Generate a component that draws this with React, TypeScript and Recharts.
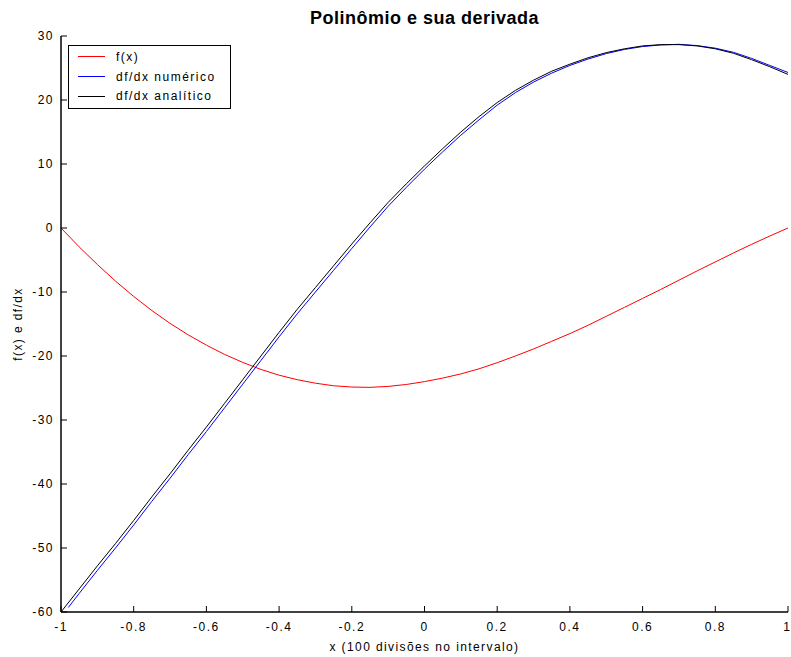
import React from "react";
import { LineChart, Line, XAxis, YAxis, Legend } from "recharts";

// x grid (100 divisions, read every 0.05)
const xs = [
  -1, -0.95, -0.9, -0.85, -0.8, -0.75, -0.7, -0.65, -0.6, -0.55, -0.5, -0.45, -0.4, -0.35,
  -0.3, -0.25, -0.2, -0.15, -0.1, -0.05, 0, 0.05, 0.1, 0.15, 0.2, 0.25, 0.3, 0.35, 0.4, 0.45,
  0.5, 0.55, 0.6, 0.65, 0.7, 0.75, 0.8, 0.85, 0.9, 0.95, 1,
];

const fx = [
  0, -2.95, -5.7, -8.3, -10.7, -12.9, -14.9, -16.7, -18.3, -19.75, -21.0, -22.1, -23.0, -23.7,
  -24.25, -24.65, -24.85, -24.9, -24.75, -24.45, -24.0, -23.45, -22.8, -22.0, -21.05, -20.0,
  -18.9, -17.7, -16.5, -15.2, -13.8, -12.4, -11.0, -9.6, -8.15, -6.7, -5.3, -3.9, -2.55, -1.25, 0,
];

const dfAnalitico = [
  -60, -56.4, -52.8, -49.3, -45.7, -42.0, -38.4, -34.7, -31.1, -27.4, -23.7, -20.0, -16.3,
  -12.7, -9.3, -5.9, -2.5, 0.8, 4.0, 6.9, 9.7, 12.4, 15.0, 17.4, 19.6, 21.5, 23.1, 24.5, 25.6,
  26.6, 27.4, 28.0, 28.45, 28.65, 28.65, 28.45, 28.0, 27.3, 26.3, 25.2, 24.0,
];

// numeric derivative starts one step later
const xsNum = [
  -0.98, -0.95, -0.9, -0.85, -0.8, -0.75, -0.7, -0.65, -0.6, -0.55, -0.5, -0.45, -0.4, -0.35,
  -0.3, -0.25, -0.2, -0.15, -0.1, -0.05, 0, 0.05, 0.1, 0.15, 0.2, 0.25, 0.3, 0.35, 0.4, 0.45,
  0.5, 0.55, 0.6, 0.65, 0.7, 0.75, 0.8, 0.85, 0.9, 0.95, 1,
];

const dfNumerico = [
  -59.3, -57.1, -53.5, -50.0, -46.4, -42.7, -39.1, -35.4, -31.8, -28.1, -24.4, -20.7, -17.0,
  -13.4, -10.0, -6.6, -3.2, 0.15, 3.4, 6.35, 9.2, 11.9, 14.5, 16.9, 19.2, 21.15, 22.8, 24.2, 25.4,
  26.4, 27.25, 27.9, 28.35, 28.6, 28.7, 28.5, 28.1, 27.45, 26.5, 25.4, 24.3,
];

const xTicks = [-1, -0.8, -0.6, -0.4, -0.2, 0, 0.2, 0.4, 0.6, 0.8, 1];
const yTicks = [-60, -50, -40, -30, -20, -10, 0, 10, 20, 30];

const seriesNames = ["f(x)", "df/dx numérico", "df/dx analítico"];
const seriesColors = ["#ff0000", "#0000ff", "#000000"];

const FONT = '"Liberation Sans", Arial, Helvetica, sans-serif';

const fData = xs.map((x, i) => ({ x, y: fx[i] }));
const numData = xsNum.map((x, i) => ({ x, y: dfNumerico[i] }));
const anaData = xs.map((x, i) => ({ x, y: dfAnalitico[i] }));

const tickStyle = { fill: "#000", fontSize: 12, fontFamily: FONT, letterSpacing: 1.5 };

function XTitle(props: any) {
  const vb = props.viewBox;
  return (
    <text
      x={vb.x + vb.width / 2}
      y={651}
      textAnchor="middle"
      fill="#000"
      fontSize={12}
      fontFamily={FONT}
      style={{ letterSpacing: 1.4 }}
    >
      x (100 divisões no intervalo)
    </text>
  );
}

function YTitle(props: any) {
  const vb = props.viewBox;
  const cx = 18;
  const cy = vb.y + vb.height / 2;
  return (
    <text
      x={cx}
      y={cy}
      transform={`rotate(-90 ${cx} ${cy})`}
      textAnchor="middle"
      dominantBaseline="central"
      fill="#000"
      fontSize={12}
      fontFamily={FONT}
      style={{ letterSpacing: 1.4 }}
    >
      f(x) e df/dx
    </text>
  );
}

function LegendBox() {
  return (
    <div
      style={{
        border: "1.5px solid #000",
        background: "#fff",
        width: 161,
        height: 61,
        boxSizing: "content-box",
        fontFamily: FONT,
        fontSize: 12,
        letterSpacing: 1.5,
        color: "#000",
        paddingTop: 1,
      }}
    >
      {seriesNames.map((name, i) => (
        <div key={i} style={{ display: "flex", alignItems: "center", height: 19.7 }}>
          <div style={{ width: 27, height: 1, background: seriesColors[i], marginLeft: 9, marginRight: 11 }} />
          <span style={{ whiteSpace: "pre" }}>{name}</span>
        </div>
      ))}
    </div>
  );
}

export default function App() {
  return (
    <div style={{ position: "absolute", left: 0, top: 0, width: 791, height: 657, background: "#fff" }}>
      <div
        style={{
          position: "absolute",
          left: 0,
          width: 849,
          top: 7,
          textAlign: "center",
          fontFamily: FONT,
          fontWeight: "bold",
          fontSize: 18,
          letterSpacing: 0.5,
          lineHeight: "22px",
        }}
      >
        Polinômio e sua derivada
      </div>
      <LineChart width={791} height={657} margin={{ top: 36, right: 3, bottom: 0, left: 0 }}>
        <XAxis
          dataKey="x"
          type="number"
          domain={[-1, 1]}
          ticks={xTicks}
          height={45}
          tickSize={-6}
          tickMargin={16}
          tick={tickStyle}
          stroke="#000"
          axisLine={{ stroke: "#000", strokeWidth: 1.5 }}
          tickLine={{ stroke: "#000" }}
          label={<XTitle />}
        />
        <XAxis
          xAxisId="top"
          orientation="top"
          dataKey="x"
          type="number"
          domain={[-1, 1]}
          ticks={xTicks}
          height={0}
          tickSize={-6}
          tick={false}
          axisLine={{ stroke: "#000", strokeWidth: 1 }}
          tickLine={{ stroke: "#000" }}
        />
        <YAxis
          type="number"
          domain={[-60, 30]}
          ticks={yTicks}
          width={61}
          tickSize={-6}
          tickMargin={13}
          tick={tickStyle}
          axisLine={{ stroke: "#000", strokeWidth: 1.5 }}
          tickLine={{ stroke: "#000" }}
          label={<YTitle />}
        />
        <YAxis
          yAxisId="right"
          orientation="right"
          type="number"
          domain={[-60, 30]}
          ticks={yTicks}
          width={0}
          tickSize={-6}
          tick={false}
          axisLine={{ stroke: "#000", strokeWidth: 1 }}
          tickLine={{ stroke: "#000" }}
        />
        <Legend
          layout="vertical"
          align="center"
          verticalAlign="middle"
          wrapperStyle={{ left: 68, top: 45, width: "auto" }}
          content={() => <LegendBox />}
        />
        <Line data={fData} dataKey="y" name={seriesNames[0]} stroke={seriesColors[0]} strokeWidth={1} dot={false} type="linear" isAnimationActive={false} />
        <Line data={numData} dataKey="y" name={seriesNames[1]} stroke={seriesColors[1]} strokeWidth={1} dot={false} type="linear" isAnimationActive={false} />
        <Line data={anaData} dataKey="y" name={seriesNames[2]} stroke={seriesColors[2]} strokeWidth={1} dot={false} type="linear" isAnimationActive={false} />
      </LineChart>
    </div>
  );
}
